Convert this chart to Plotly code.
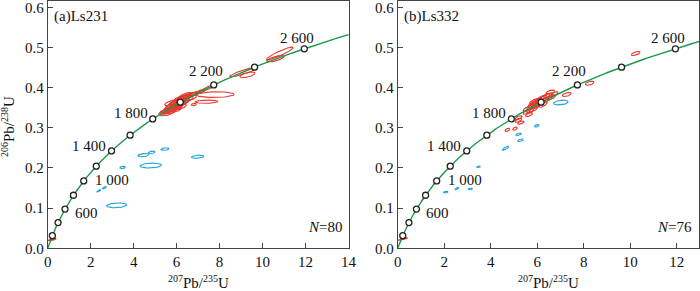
import numpy as np
import plotly.graph_objects as go

# ---------------- data ----------------
L238 = 1.55125e-10
L235 = 9.8485e-10
marker_ages = [200, 400, 600, 800, 1000, 1200, 1400, 1600, 1800, 2000, 2200, 2400, 2600]
label_ages = [600, 1000, 1400, 1800, 2200, 2600]
label_text = ["600", "1 000", "1 400", "1 800", "2 200", "2 600"]

# ellipses: (x207/235, y206/238, sx, sy, rho)
a_red = [
    (5.45, 0.340, 0.28, 0.008, 0.7), (5.55, 0.336, 0.32, 0.006, 0.6), (5.65, 0.345, 0.32, 0.009, 0.7),
    (5.70, 0.352, 0.28, 0.008, 0.7), (5.80, 0.348, 0.38, 0.009, 0.7), (5.85, 0.357, 0.32, 0.010, 0.7),
    (5.90, 0.350, 0.32, 0.008, 0.6), (5.95, 0.360, 0.38, 0.009, 0.7), (6.00, 0.355, 0.32, 0.009, 0.7),
    (6.05, 0.365, 0.38, 0.010, 0.7), (6.10, 0.358, 0.32, 0.008, 0.6), (6.15, 0.368, 0.32, 0.009, 0.7),
    (6.20, 0.362, 0.38, 0.010, 0.7), (6.25, 0.372, 0.32, 0.009, 0.7), (6.30, 0.366, 0.32, 0.008, 0.6),
    (6.35, 0.375, 0.32, 0.009, 0.7), (6.45, 0.370, 0.32, 0.009, 0.7), (6.50, 0.378, 0.28, 0.008, 0.7),
    (6.60, 0.374, 0.32, 0.007, 0.6), (6.70, 0.382, 0.22, 0.007, 0.7), (5.60, 0.340, 0.35, 0.005, 0.3),
    (6.00, 0.345, 0.20, 0.005, 0.5), (6.90, 0.386, 0.25, 0.006, 0.8), (7.10, 0.390, 0.25, 0.006, 0.8),
    (5.75, 0.362, 0.30, 0.007, 0.6), (6.15, 0.352, 0.30, 0.007, 0.6), (6.40, 0.380, 0.30, 0.008, 0.7),
    (5.90, 0.362, 0.22, 0.006, 0.6), (6.05, 0.350, 0.22, 0.006, 0.6), (6.25, 0.366, 0.22, 0.006, 0.6),
    (5.70, 0.344, 0.22, 0.006, 0.6), (6.45, 0.376, 0.22, 0.006, 0.6), (6.10, 0.372, 0.22, 0.006, 0.6),
    (7.80, 0.3826, 0.875, 0.007, 0.1), (7.39, 0.365, 0.53, 0.004, 0.1), (6.80, 0.358, 0.12, 0.003, 0.3),
    (7.50, 0.400, 0.35, 0.008, 0.9), (9.13, 0.439, 0.65, 0.012, 0.9), (9.30, 0.432, 0.35, 0.007, 0.6),
    (10.80, 0.485, 0.62, 0.016, 0.92), (10.60, 0.472, 0.40, 0.008, 0.7),
    (0.12, 0.021, 0.12, 0.002, 0.8), (0.25, 0.022, 0.15, 0.003, 0.8), (1.12, 0.131, 0.08, 0.004, 0.9),
]
a_blue = [
    (4.46, 0.232, 0.26, 0.004, 0.3), (4.84, 0.239, 0.16, 0.003, 0.3), (5.46, 0.247, 0.19, 0.003, 0.3),
    (6.98, 0.228, 0.29, 0.004, 0.3), (4.80, 0.206, 0.50, 0.006, 0.2), (3.49, 0.2015, 0.13, 0.003, 0.3),
    (2.38, 0.143, 0.09, 0.003, 0.8), (2.64, 0.151, 0.09, 0.003, 0.8), (3.21, 0.107, 0.47, 0.006, 0.2),
]
b_red = [
    (5.55, 0.340, 0.15, 0.006, 0.7), (5.60, 0.348, 0.20, 0.007, 0.7), (5.70, 0.343, 0.15, 0.006, 0.6),
    (5.75, 0.352, 0.20, 0.008, 0.7), (5.80, 0.358, 0.20, 0.008, 0.7), (5.85, 0.347, 0.18, 0.007, 0.7),
    (5.90, 0.362, 0.20, 0.008, 0.7), (5.95, 0.355, 0.20, 0.008, 0.7), (6.00, 0.366, 0.20, 0.008, 0.7),
    (6.05, 0.359, 0.22, 0.008, 0.7), (6.10, 0.370, 0.20, 0.008, 0.7), (6.15, 0.362, 0.20, 0.007, 0.7),
    (6.20, 0.374, 0.20, 0.007, 0.7), (6.30, 0.368, 0.20, 0.007, 0.6), (6.35, 0.378, 0.20, 0.007, 0.7),
    (6.45, 0.372, 0.20, 0.006, 0.6), (6.50, 0.381, 0.18, 0.006, 0.7), (6.60, 0.376, 0.18, 0.006, 0.6),
    (6.75, 0.385, 0.15, 0.005, 0.6), (5.65, 0.333, 0.15, 0.005, 0.6), (6.57, 0.389, 0.19, 0.005, 0.5),
    (5.85, 0.365, 0.18, 0.007, 0.7), (6.25, 0.358, 0.18, 0.007, 0.7),
    (7.27, 0.383, 0.19, 0.005, 0.5), (8.26, 0.411, 0.19, 0.005, 0.5), (10.24, 0.485, 0.19, 0.005, 0.6),
    (5.19, 0.319, 0.15, 0.005, 0.6), (5.30, 0.313, 0.14, 0.004, 0.6), (5.20, 0.325, 0.15, 0.005, 0.6),
    (4.72, 0.295, 0.10, 0.004, 0.5), (5.05, 0.298, 0.10, 0.004, 0.5),
    (0.15, 0.022, 0.12, 0.002, 0.8), (0.30, 0.024, 0.14, 0.002, 0.8), (1.10, 0.124, 0.07, 0.005, 0.95),
]
b_blue = [
    (5.98, 0.305, 0.10, 0.003, 0.5), (5.20, 0.284, 0.12, 0.003, 0.5), (5.28, 0.269, 0.12, 0.003, 0.5),
    (4.64, 0.249, 0.14, 0.005, 0.8), (3.48, 0.203, 0.08, 0.002, 0.3), (2.07, 0.140, 0.10, 0.002, 0.3),
    (2.55, 0.149, 0.08, 0.003, 0.8), (3.13, 0.1475, 0.09, 0.002, 0.3), (7.02, 0.363, 0.31, 0.006, 0.3),
]
panel_names = ["(a)Ls231", "(b)Ls332"]
panel_n = ["80", "76"]
x_max = [14, 12.96]

# label offsets (px) relative to concordia point: (xshift, yshift, xanchor)
label_pos = [(8, -4, "left"), (9, 1, "left"), (-4, 5, "right"), (-3, 6, "right"), (-8, 14, "center"), (-7, 11, "center")]

RED = "#e8372c"
BLUE = "#22a3dc"
GREEN = "#1a9a48"
FONT = "'Liberation Serif', 'Times New Roman', Times, serif"
SUP = "<sup><span style='font-size:10px'>{}</span></sup>"


def conc(t_ma):
    t = np.asarray(t_ma, dtype=float) * 1e6
    return np.exp(L235 * t) - 1, np.exp(L238 * t) - 1


def ellipse_path(ells):
    th = np.linspace(0, 2 * np.pi, 60)
    xs, ys = [], []
    for cx, cy, sx, sy, r in ells:
        xs += list(cx + sx * np.cos(th)) + [None]
        ys += list(cy + sy * (r * np.cos(th) + np.sqrt(1 - r * r) * np.sin(th))) + [None]
    return xs, ys


fig = go.Figure()
panels = [(a_red, a_blue), (b_red, b_blue)]
xdoms = [[47.7 / 700, 348.5 / 700], [397.7 / 700, 699.0 / 700]]
ydom = [(291 - 248.3) / 291, (291 - 0.5) / 291]

for i, (reds, blues) in enumerate(panels):
    xa = "x" if i == 0 else "x2"
    ya = "y" if i == 0 else "y2"
    for ells, col in [(blues, BLUE), (reds, RED)]:
        ex, ey = ellipse_path(ells)
        fig.add_trace(go.Scatter(x=ex, y=ey, mode="lines", line=dict(color=col, width=1.1),
                                 xaxis=xa, yaxis=ya, hoverinfo="skip", showlegend=False))
    # concordia
    tmax = np.log(x_max[i] + 1.05) / L235 / 1e6
    cx, cy = conc(np.linspace(0, tmax, 400))
    fig.add_trace(go.Scatter(x=cx, y=cy, mode="lines", line=dict(color=GREEN, width=1.4),
                             xaxis=xa, yaxis=ya, hoverinfo="skip", showlegend=False))
    mx, my = conc(marker_ages)
    fig.add_trace(go.Scatter(x=mx, y=my, mode="markers",
                             marker=dict(size=6, color="white", line=dict(color="#222", width=1.3)),
                             xaxis=xa, yaxis=ya, hoverinfo="skip", showlegend=False))
    lx, ly = conc(label_ages)
    for k, txt in enumerate(label_text):
        xs_, ys_, anc = label_pos[k]
        fig.add_annotation(x=lx[k], y=ly[k], xref=xa, yref=ya, text=txt, showarrow=False,
                           xanchor=anc, yanchor="middle", xshift=xs_, yshift=ys_,
                           font=dict(family=FONT, size=15, color="#111"))
    fig.add_annotation(x=0, y=0.617, xref=xa, yref=ya, text=panel_names[i],
                       showarrow=False, xanchor="left", yanchor="top", yshift=-5, xshift=4,
                       font=dict(family=FONT, size=15, color="#111"))
    fig.add_annotation(x=x_max[i], y=0, xref=xa, yref=ya, text="<i>N</i>=" + panel_n[i],
                       showarrow=False, xanchor="right", yanchor="bottom", xshift=-5, yshift=11,
                       font=dict(family=FONT, size=15, color="#111"))
    fig.add_annotation(x=sum(xdoms[i]) / 2, y=(291 - 282) / 291, xref="paper", yref="paper",
                       text=SUP.format("207") + "Pb/" + SUP.format("235") + "U", showarrow=False,
                       xanchor="center", yanchor="middle",
                       font=dict(family=FONT, size=15, color="#111"))

fig.add_annotation(x=8 / 700, y=(291 - 127) / 291, xref="paper", yref="paper",
                   text=SUP.format("206") + "Pb/" + SUP.format("238") + "U", textangle=-90,
                   showarrow=False, xanchor="center", yanchor="middle",
                   font=dict(family=FONT, size=15, color="#111"))

axis_common = dict(showline=True, linecolor="#444", linewidth=1, mirror=True, ticks="inside",
                   ticklen=5, tickcolor="#444", showgrid=False, zeroline=False, automargin=False,
                   ticklabeloverflow="allow",
                   tickfont=dict(family=FONT, size=15, color="#111"))
fig.update_layout(
    width=700, height=291, margin=dict(l=0, r=0, t=0, b=0, autoexpand=False),
    paper_bgcolor="white", plot_bgcolor="white", showlegend=False,
    xaxis=dict(domain=xdoms[0], range=[0, x_max[0]], dtick=2, anchor="y", **axis_common),
    yaxis=dict(domain=ydom, range=[0, 0.617], dtick=0.1, tickformat=".1f", anchor="x", **axis_common),
    xaxis2=dict(domain=xdoms[1], range=[0, x_max[1]], dtick=2, anchor="y2", **axis_common),
    yaxis2=dict(domain=ydom, range=[0, 0.617], dtick=0.1, tickformat=".1f", anchor="x2", **axis_common),
)
fig.write_html("out.html", config={"displayModeBar": False},
               post_script="document.body.style.margin='0px';document.body.style.padding='0px';")
